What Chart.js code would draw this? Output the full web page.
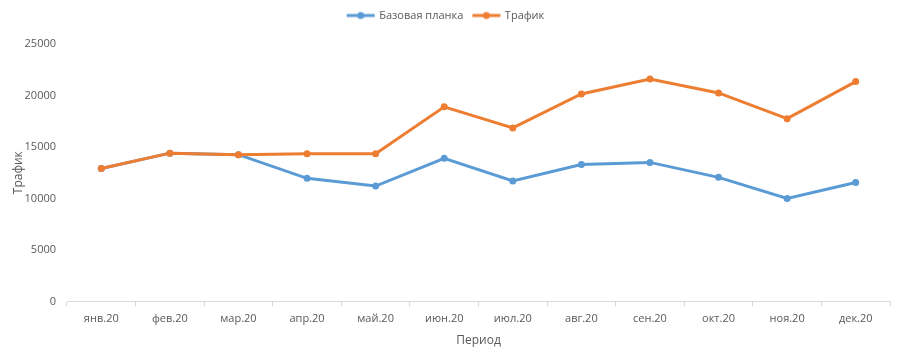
<!DOCTYPE html>
<html lang="ru">
<head>
<meta charset="UTF-8">
<script src="https://cdn.jsdelivr.net/npm/chart.js@4.4.0/dist/chart.umd.min.js"></script>
<style>
  html, body { margin: 0; padding: 0; background: #fff; }
  #wrap { width: 900px; height: 352px; }
</style>
</head>
<body>
<div id="wrap"><canvas id="myChart"></canvas></div>
<script>
// data
const months = ['янв.20', 'фев.20', 'мар.20', 'апр.20', 'май.20', 'июн.20',
                'июл.20', 'авг.20', 'сен.20', 'окт.20', 'ноя.20', 'дек.20'];
const baseline = [12900, 14400, 14250, 11950, 11200, 13900, 11700, 13300, 13500, 12050, 10000, 11550];
const traffic  = [12900, 14400, 14250, 14350, 14350, 18900, 16850, 20150, 21600, 20250, 17750, 21350];
const yTicks = [0, 5000, 10000, 15000, 20000, 25000];

const BLUE = '#5B9BD5';
const ORANGE = '#ED7D31';
const GREY = '#595959';
const FONT = "'Open Sans', sans-serif";

// little "line with dot" picture for the legend
function legendIcon(color) {
    const c = document.createElement('canvas');
    c.width = 30; c.height = 10;
    const g = c.getContext('2d');
    g.strokeStyle = color;
    g.lineWidth = 3;
    g.beginPath(); g.moveTo(1, 5); g.lineTo(29, 5); g.stroke();
    g.fillStyle = color;
    g.beginPath(); g.arc(15, 5, 3.5, 0, Math.PI * 2); g.fill();
    return c;
}

// extra room under the legend so the plot starts lower
const legendGap = {
    id: 'legendGap',
    beforeLayout(chart) {
        const lg = chart.legend;
        if (lg && !lg._gapPatched) {
            const fit = lg.fit;
            lg.fit = function() {
                fit.call(this);
                this.height += 13;
            };
            lg._gapPatched = true;
        }
    }
};

const ctx = document.getElementById('myChart');
new Chart(ctx, {
    type: 'line',
    plugins: [legendGap],
    data: {
        labels: months,
        datasets: [{
            label: 'Базовая планка',
            data: baseline,
            borderColor: BLUE,
            backgroundColor: BLUE,
            borderWidth: 3,
            pointRadius: 3.5,
            pointBorderWidth: 0,
            fill: false,
            order: 1
        }, {
            label: 'Трафик',
            data: traffic,
            borderColor: ORANGE,
            backgroundColor: ORANGE,
            borderWidth: 3,
            pointRadius: 3.5,
            pointBorderWidth: 0,
            fill: false,
            order: 0
        }]
    },
    options: {
        responsive: true,
        maintainAspectRatio: false,
        animation: false,
        layout: { padding: { top: 0, right: 10, left: 2, bottom: 0 } },
        plugins: {
            tooltip: { enabled: false },
            legend: {
                position: 'top',
                labels: {
                    color: GREY,
                    font: { family: FONT, size: 11 },
                    usePointStyle: true,
                    pointStyleWidth: 26,
                    padding: 10,
                    generateLabels: function(chart) {
                        return chart.data.datasets.map(function(ds, i) {
                            return {
                                text: ds.label,
                                pointStyle: legendIcon(ds.borderColor),
                                fillStyle: ds.borderColor,
                                strokeStyle: ds.borderColor,
                                lineWidth: 0,
                                fontColor: GREY,
                                datasetIndex: i
                            };
                        });
                    }
                }
            }
        },
        scales: {
            x: {
                offset: true,
                border: { display: true, color: '#d9d9d9', width: 1 },
                grid: { display: true, drawOnChartArea: false, offset: true, color: '#d9d9d9', tickLength: 5 },
                ticks: { color: GREY, font: { family: FONT, size: 11 }, padding: 6, maxRotation: 0 },
                title: { display: true, text: 'Период', color: GREY, font: { family: FONT, size: 12 }, padding: { top: 2 } }
            },
            y: {
                min: 0,
                max: 25000,
                afterBuildTicks: function(axis) {
                    axis.ticks = yTicks.map(function(v) { return { value: v }; });
                },
                afterFit: function(axis) {
                    axis.width = 65;
                },
                border: { display: false },
                grid: { display: false, drawTicks: false },
                ticks: {
                    color: GREY,
                    font: { family: FONT, size: 11 },
                    padding: 11,
                    callback: function(v) { return String(v); }
                },
                title: { display: true, text: 'Трафик', color: GREY, font: { family: FONT, size: 12 }, padding: { top: 9, bottom: 0 } }
            }
        }
    }
});
</script>
</body>
</html>
